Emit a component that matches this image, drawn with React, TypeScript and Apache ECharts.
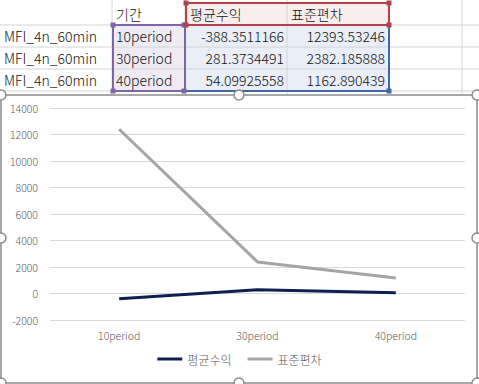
import React, { useEffect, useRef } from "react";
import * as echarts from "echarts";

const categories = ["10period", "30period", "40period"];
const seriesNames = ["평균수익", "표준편차"];
const avgReturn = [-388.3511166, 281.3734491, 54.09925558];
const stdDev = [12393.53246, 2382.185888, 1162.890439];
const rowLabels = ["MFI_4n_60min", "MFI_4n_60min", "MFI_4n_60min"];
const periodHeader = "기간";
const avgText = ["-388.3511166", "281.3734491", "54.09925558"];
const stdText = ["12393.53246", "2382.185888", "1162.890439"];

const FONT = "'Noto Sans CJK KR', 'Noto Sans', sans-serif";

export default function App() {
  const ref = useRef<HTMLDivElement>(null);
  useEffect(() => {
    if (!ref.current) return;
    const chart = echarts.init(ref.current, undefined, { renderer: "svg" });

    const rowTops = [3, 25, 47, 69];
    const rowH = 22;
    const colX = [0, 112, 185, 287, 389, 462];
    const grid: any[] = [];
    for (let r = 1; r <= 3; r++) {
      grid.push({ type: "rect", shape: { x: 113, y: rowTops[r], width: 72, height: rowH }, style: { fill: "#eeebf5" }, z: 1 });
      grid.push({ type: "rect", shape: { x: 185, y: rowTops[r], width: 204, height: rowH }, style: { fill: "#e9eef7" }, z: 1 });
    }
    grid.push({ type: "rect", shape: { x: 185, y: 3, width: 204, height: 22 }, style: { fill: "#f7eded" }, z: 1 });
    [25, 47, 69, 91].forEach((y) =>
      grid.push({ type: "line", shape: { x1: 0, y1: y, x2: 479, y2: y }, style: { stroke: "#d4d4d4", lineWidth: 1 }, z: 2 })
    );
    colX.slice(1).forEach((x) =>
      grid.push({ type: "line", shape: { x1: x, y1: 0, x2: x, y2: 94 }, style: { stroke: "#d4d4d4", lineWidth: 1 }, z: 2 })
    );
    grid.push({ type: "rect", shape: { x: 113, y: 25, width: 72, height: 66 }, style: { fill: "none", stroke: "#8064a8", lineWidth: 2 }, z: 3 });
    grid.push({ type: "rect", shape: { x: 186, y: 3, width: 203, height: 22 }, style: { fill: "none", stroke: "#b3414a", lineWidth: 2 }, z: 3 });
    grid.push({ type: "polyline", shape: { points: [[186, 91], [389, 91], [389, 25]] }, style: { fill: "none", stroke: "#3f6aa8", lineWidth: 2 }, z: 3 });
    const sq = (x: number, y: number, c: string) =>
      grid.push({ type: "rect", shape: { x: x - 2.5, y: y - 2.5, width: 5, height: 5 }, style: { fill: c }, z: 4 });
    sq(113, 25, "#8064a8"); sq(184, 25, "#8064a8"); sq(113, 91, "#8064a8"); sq(184, 91, "#8064a8");
    sq(186, 3, "#b3414a"); sq(389, 3, "#b3414a"); sq(186, 25, "#b3414a"); sq(389, 25, "#b3414a");
    sq(389, 91, "#3f6aa8");
    const txt = (s: string, x: number, y: number, align: string) =>
      grid.push({ type: "text", x, y, z: 5, style: { text: s, fill: "#111", font: `300 14px ${FONT}`, align, verticalAlign: "middle" } });
    txt(periodHeader, 116, 14, "left");
    txt(seriesNames[0], 190, 14, "left");
    txt(seriesNames[1], 291, 14, "left");
    for (let i = 0; i < 3; i++) {
      const cy = rowTops[i + 1] + 11;
      txt(rowLabels[i], 4, cy, "left");
      txt(categories[i], 116, cy, "left");
      txt(avgText[i], 284, cy, "right");
      txt(stdText[i], 385, cy, "right");
    }
    grid.push({ type: "rect", shape: { x: 1, y: 95, width: 476, height: 288 }, style: { fill: "#fff", stroke: "#8c8c8c", lineWidth: 1.5 }, z: -10 });
    const handles = [[1, 95], [239, 95], [477, 95], [1, 238], [477, 238], [1, 383], [239, 383], [477, 383]];
    handles.forEach(([x, y]) =>
      grid.push({ type: "circle", shape: { cx: x, cy: y, r: 5 }, style: { fill: "#fff", stroke: "#8c8c8c", lineWidth: 1.5 }, z: 100 })
    );

    chart.setOption({
      animation: false,
      backgroundColor: "#fff",
      textStyle: { fontFamily: FONT },
      graphic: { elements: grid },
      grid: { left: 50, right: 14, top: 108, bottom: 64, containLabel: false },
      legend: {
        bottom: 14,
        left: "center",
        itemWidth: 25,
        itemHeight: 3,
        itemGap: 16,
        icon: "rect",
        textStyle: { fontSize: 12, color: "#595959", fontFamily: FONT, fontWeight: 300 },
        data: seriesNames,
      },
      xAxis: {
        type: "category",
        data: categories,
        boundaryGap: true,
        axisLine: { show: false },
        axisTick: { show: false },
        axisLabel: { fontSize: 10.5, color: "#595959", margin: 10, fontWeight: 300 },
      },
      yAxis: {
        type: "value",
        min: -2000,
        max: 14000,
        interval: 2000,
        axisLine: { show: false },
        axisTick: { show: false },
        axisLabel: { fontSize: 10.5, color: "#595959", margin: 12, fontWeight: 300, formatter: (v: number) => String(v) },
        splitLine: { lineStyle: { color: "#d9d9d9", width: 1 } },
      },
      series: [
        {
          name: seriesNames[0],
          type: "line",
          data: avgReturn,
          symbol: "none",
          lineStyle: { color: "#0c2152", width: 3 },
          itemStyle: { color: "#0c2152" },
          z: 3,
        },
        {
          name: seriesNames[1],
          type: "line",
          data: stdDev,
          symbol: "none",
          lineStyle: { color: "#a5a5a5", width: 3 },
          itemStyle: { color: "#a5a5a5" },
          z: 2,
        },
      ],
    });
    return () => chart.dispose();
  }, []);
  return (
    <div
      ref={ref}
      style={{ position: "fixed", left: 0, top: 0, width: 479, height: 384, background: "#fff" }}
    />
  );
}
